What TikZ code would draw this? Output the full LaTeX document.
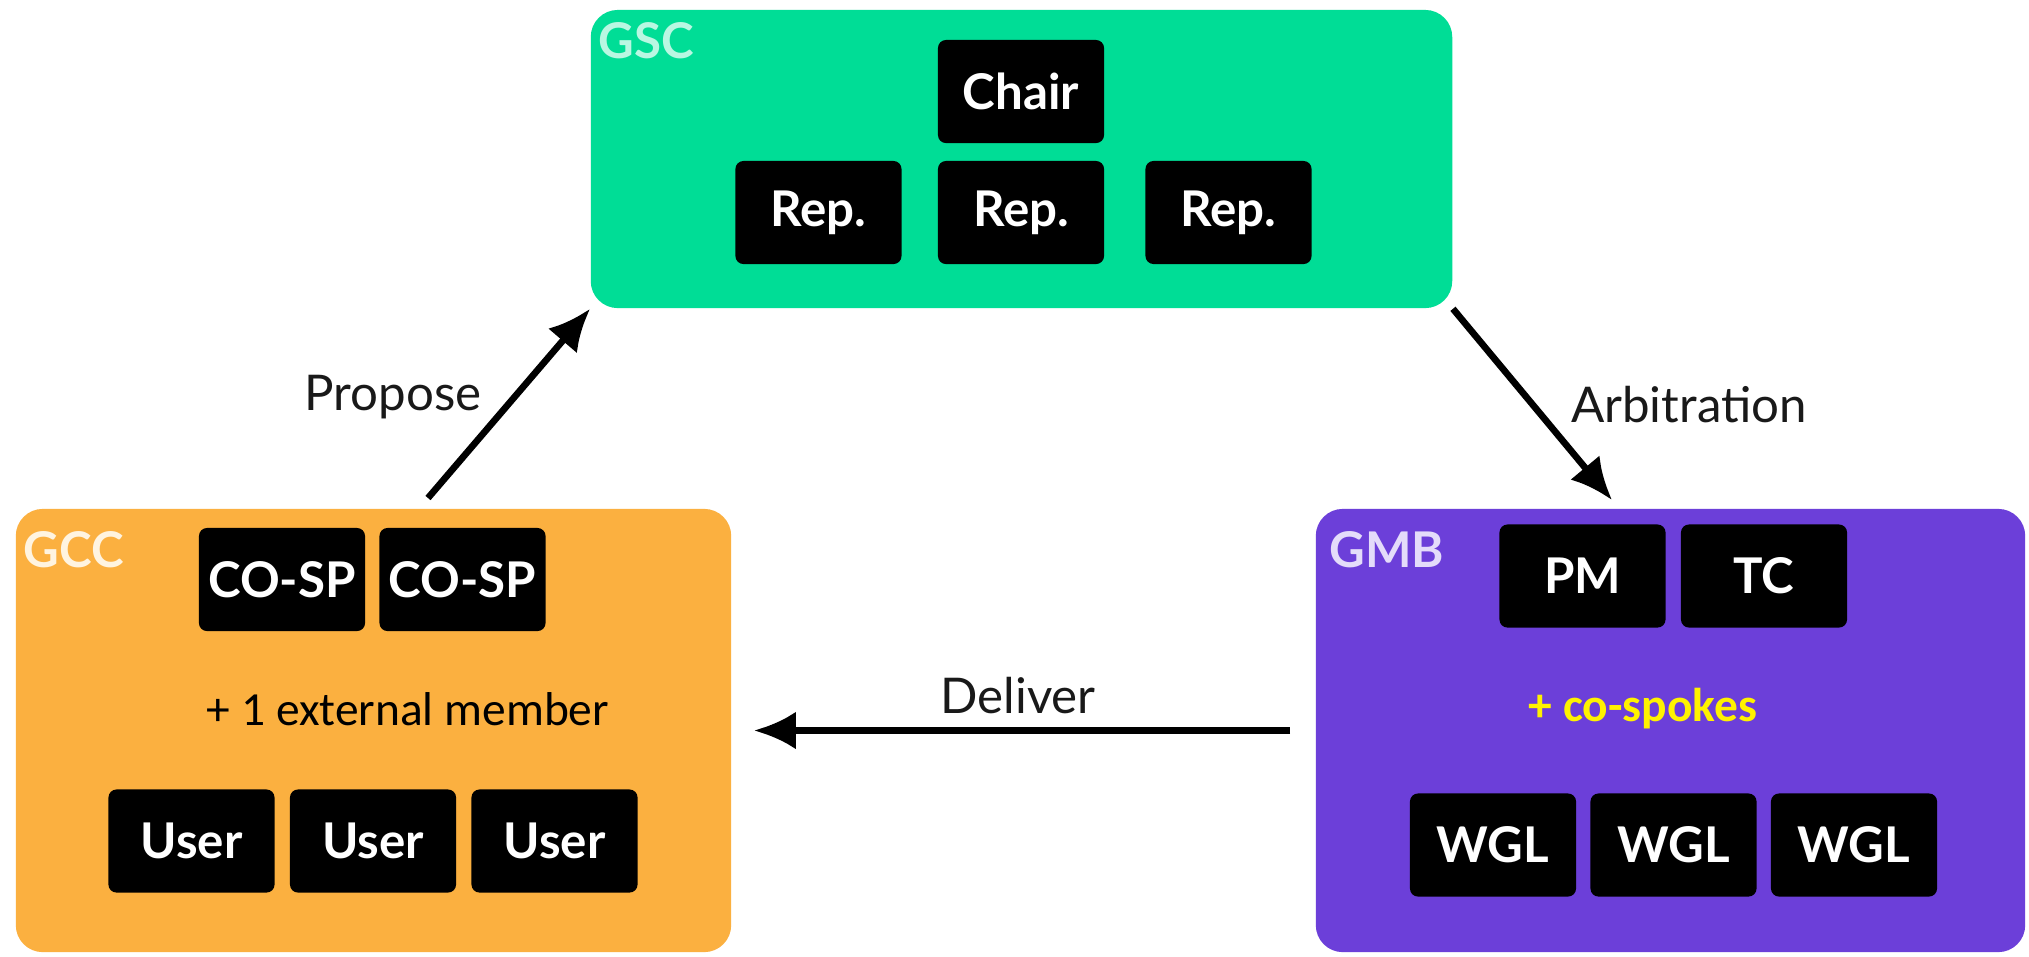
\documentclass[tikz,border=0pt]{standalone}
\usepackage{fontspec}
\setmainfont{Lato}
\newfontfamily\calib{Carlito}
\usepackage{xcolor}
\usetikzlibrary{arrows.meta,positioning}
\definecolor{gscgreen}{RGB}{0,221,150}
\definecolor{gccorange}{RGB}{251,176,64}
\definecolor{gmbpurple}{RGB}{108,63,217}
\definecolor{gsclbl}{RGB}{185,247,226}
\definecolor{gcclbl}{RGB}{255,244,224}
\definecolor{gmblbl}{RGB}{228,220,250}
\tikzset{
  grp/.style={rectangle, rounded corners=0.27cm, inner sep=0pt},
  mbox/.style={rectangle, rounded corners=0.08cm, fill=black, text=white, minimum width=1.66cm, minimum height=1.03cm, inner sep=0pt, font=\fontsize{14}{16}\selectfont\bfseries},
  grplbl/.style={anchor=west, inner sep=0pt, font=\fontsize{14}{16}\selectfont\bfseries},
  lbl/.style={inner sep=0pt, text=black!90, font=\fontsize{14}{16}\selectfont},
  arr/.style={-{Latex[length=0.42cm,width=0.38cm]}, line width=1.9pt}
}
\begin{document}
\begin{tikzpicture}[x=0.01cm, y=-0.01cm]
\useasboundingbox[fill=white] (0,0) rectangle (2029,956);
% the three groups
\node[grp, fill=gscgreen, minimum width=8.61cm, minimum height=2.98cm] (gsc) at (1021.5,159) {};
\node[grp, fill=gccorange, minimum width=7.15cm, minimum height=4.43cm] (gcc) at (373.5,730.5) {};
\node[grp, fill=gmbpurple, minimum width=7.09cm, minimum height=4.43cm] (gmb) at (1670.5,730.5) {};
\node[grplbl, text=gsclbl] (gsct) at (598,41) {GSC};
\node[grplbl, text=gcclbl] (gcct) at (23,550) {GCC};
\node[grplbl, text=gmblbl] (gmbt) at (1329,550) {GMB};
% GSC members
\node[mbox] (chair) at (1021,91.5) {Chair};
\node[mbox] (rep2) at (1021,212.5) {Rep.};
\node[mbox, left=0.35cm of rep2] (rep1) {Rep.};
\node[mbox, right=0.40cm of rep2] (rep3) {Rep.};
% GCC members
\node[mbox] (cosp1) at (282,579.5) {CO-SP};
\node[mbox, right=0.13cm of cosp1] (cosp2) {CO-SP};
\node[lbl, text=black, font=\calib\fontsize{13.5}{16}\selectfont] (ext) at (408,709) {+ 1 external member};
\node[mbox] (user1) at (191.5,841) {User};
\node[mbox, right=0.14cm of user1] (user2) {User};
\node[mbox, right=0.14cm of user2] (user3) {User};
% GMB members
\node[mbox] (pm) at (1582.5,576) {PM};
\node[mbox, right=0.14cm of pm] (tc) {TC};
\node[lbl, font=\calib\fontsize{13.5}{16}\selectfont\bfseries, text=yellow] (cosp) at (1643,709) {+ co-spokes};
\node[mbox] (wgl1) at (1493,845) {WGL};
\node[mbox, right=0.13cm of wgl1] (wgl2) {WGL};
\node[mbox, right=0.13cm of wgl2] (wgl3) {WGL};
% flows
\coordinate (pstart) at (428,498);
\coordinate (aend) at (1612,500);
\draw[arr] (pstart) -- (gsc.south west);
\draw[arr] (gsc.south east) -- (aend);
\draw[arr, shorten <=0.25cm, shorten >=0.22cm] (gmb.west) -- (gcc.east);
\node[lbl] (propose) at (393,397) {Propose};
\node[lbl] (arbit) at (1689,405) {Arbitration};
\node[lbl] (deliver) at (1018,696) {Deliver};
\end{tikzpicture}
\end{document}
